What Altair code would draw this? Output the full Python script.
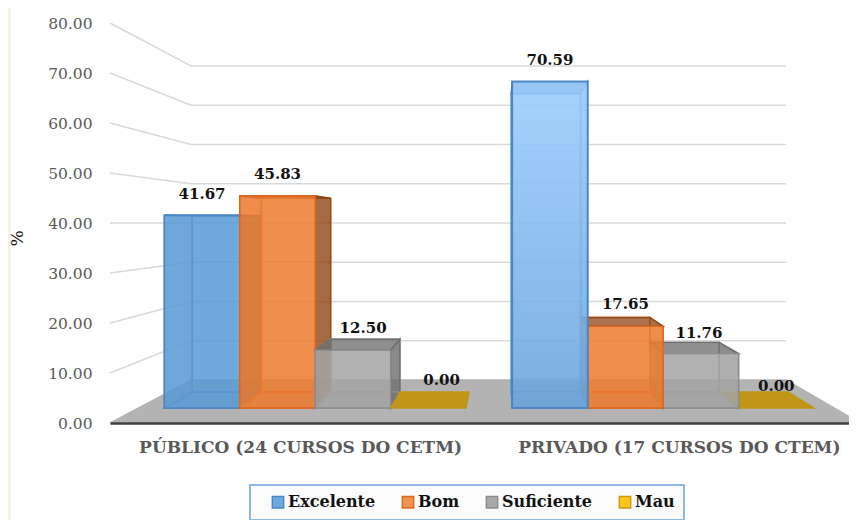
import altair as alt
import pandas as pd

groups = ["PÚBLICO (24 CURSOS DO CETM)", "PRIVADO (17 CURSOS DO CTEM)"]
series = ["Excelente", "Bom", "Suficiente", "Mau"]
publico = [41.67, 45.83, 12.50, 0.00]
privado = [70.59, 17.65, 11.76, 0.00]
ticks = [0, 10, 20, 30, 40, 50, 60, 70, 80]
fill_colors = ["#5B9BD5", "#ED7D31", "#A5A5A5", "#FFC000"]
legend_fill = ["#6FA8DC", "#F0914F", "#A9A9A9", "#FFC51A"]
edge_colors = ["#4A86C5", "#E0651D", "#8C8C8C", "#C99A12"]
dark_colors = ["#3E6F9E", "#8F4A1C", "#6E6E6E", "#8A6D10"]
label_dx = [[0, 0, 0.027, 0.035], [0, 0, -0.005, 0]]
label_dy = [[4.3, 4.5, 4.5, 5.6], [4.4, 4.4, 4.2, 4.4]]

BAR_START, BAR_STEP = 0.0747, 0.2169
T_FRONT, T_BACK = 0.35, 0.72
XMAX = 1.9707


def px(u, t):
    left, right = 0.216 * t, 2 - 0.1973 * t
    return left + u / 2 * (right - left)


def py(v, t):
    return 8.6 * t + v * (1 - 0.215 * t)


def vface(name, u0, t0, u1, t1, v, fill, stroke, op):
    return [
        dict(face=name, x=px(u0, t0), y=py(v, t0), y2=py(0, t0), fill=fill, stroke=stroke, op=op),
        dict(face=name, x=px(u1, t1), y=py(v, t1), y2=py(0, t1), fill=fill, stroke=stroke, op=op),
    ]


def hface(name, u0, u1, v, fill, stroke, op):
    return [
        dict(face=name, y=py(v, T_BACK), x=px(u0, T_BACK), x2=px(u1, T_BACK), fill=fill, stroke=stroke, op=op),
        dict(face=name, y=py(v, T_FRONT), x=px(u0, T_FRONT), x2=px(u1, T_FRONT), fill=fill, stroke=stroke, op=op),
    ]


def common():
    return dict(
        fill=alt.Fill("fill:N", scale=None, legend=None),
        stroke=alt.Stroke("stroke:N", scale=None, legend=None),
        fillOpacity=alt.FillOpacity("op:Q", scale=None, legend=None),
        detail="face:N",
    )


X = alt.X("x:Q", scale=alt.Scale(domain=[0, XMAX]), title=None, axis=alt.Axis(
    values=[0.507, 1.517], zindex=1,
    labelExpr="datum.value < 1 ? '%s' : '%s'" % (groups[0], groups[1]),
    ticks=False, grid=False, domainColor="#404040", domainWidth=2.5,
    labelFont="DejaVu Serif", labelFontWeight="bold", labelFontSize=17, labelColor="#595959",
    labelPadding=16, labelLimit=500, labelOverlap=False, labelBound=False, labelFlush=False))
Y = alt.Y("y:Q", scale=alt.Scale(domain=[0, 80]), title="%", axis=alt.Axis(
    values=ticks, format=".2f", ticks=False, grid=False, domain=False, zindex=1,
    labelFont="DejaVu Serif", labelFontSize=15.5, labelColor="#595959", labelPadding=18,
    titleFont="DejaVu Serif", titleFontSize=17, titleFontWeight="normal", titleColor="#111111",
    titleX=-84, titleY=215))


def varea(rows):
    return alt.Chart(pd.DataFrame(rows)).mark_area(orient="vertical", strokeWidth=1.4, clip=False).encode(
        x=X, y=Y, y2="y2:Q", **common())


def harea(rows, sw=1.4, clip=False):
    return alt.Chart(pd.DataFrame(rows)).mark_area(orient="horizontal", strokeWidth=sw, clip=clip).encode(
        y=Y, x=X, x2="x2:Q", **common())


layers = []

# white panel
layers.append(alt.Chart(pd.DataFrame({"a": [0]})).mark_rect(color="white").encode(
    x=alt.value(-99), x2=alt.value(800), y=alt.value(-40), y2=alt.value(560)))

# gridlines on wall and back
grid_rows = []
for v in ticks[1:]:
    for i, (u, t) in enumerate([(0, 0), (0, 1), (2, 1)]):
        grid_rows.append(dict(g=v, o=i, x=px(u, t), y=py(v, t)))
layers.append(alt.Chart(pd.DataFrame(grid_rows)).mark_line(color="#D9D9D9", strokeWidth=1.5).encode(
    x=X, y=Y, detail="g:N", order="o:Q"))

# floor
floor = [
    dict(face="floor", y=py(0, 1), x=px(0, 1), x2=px(2, 1), fill="#B3B3B3", stroke="#B3B3B3", op=1),
    dict(face="floor", y=py(0, 0), x=px(0, 0), x2=px(2, 0), fill="#B3B3B3", stroke="#B3B3B3", op=1),
]
layers.append(harea(floor, clip=True))

# bars
for g, values in enumerate([publico, privado]):
    order = range(4) if g == 0 else range(3, -1, -1)
    for j in order:
        v = values[j]
        u0 = g + BAR_START + j * BAR_STEP
        u1 = u0 + BAR_STEP
        base, edge, dark = fill_colors[j], edge_colors[j], dark_colors[j]
        key = f"{g}-{j}"
        if v == 0:
            layers.append(harea(hface(key + "f", u0, u1, 0, "#BF9618", "#BF9618", 1)))
            continue
        left_op, right_op = (0.15, 0.8) if g == 0 else (0.55, 0.15)
        rows = vface(key + "b", u0, T_BACK, u1, T_BACK, v, base, edge, 0.12)
        rows += vface(key + "l", u0, T_FRONT, u0, T_BACK, v, dark, edge, left_op)
        rows += vface(key + "r", u1, T_FRONT, u1, T_BACK, v, dark, dark if g == 0 else edge, right_op)
        layers.append(varea(rows))
        layers.append(harea(hface(key + "g", u0, u1, 0, dark, edge, 0.2)
                            + hface(key + "t", u0, u1, v, dark, dark, 0.75)))
        front = vface(key + "x", u0, T_FRONT, u1, T_FRONT, v, base, edge, 0.85)
        if g == 1 and j == 0:
            grad = alt.Gradient(gradient="linear", x1=0, x2=0, y1=0, y2=1, stops=[
                alt.GradientStop(color="#9CCDFF", offset=0),
                alt.GradientStop(color="#6BA5DC", offset=1)])
            layers.append(alt.Chart(pd.DataFrame(front)).mark_area(
                orient="vertical", fill=grad, fillOpacity=0.88, stroke="#4A86C5", strokeWidth=1.8
            ).encode(x=X, y=Y, y2="y2:Q"))
        else:
            layers.append(varea(front))

# value labels
label_rows = []
for g, values in enumerate([publico, privado]):
    for j, v in enumerate(values):
        um = g + BAR_START + (j + 0.5) * BAR_STEP
        label_rows.append(dict(x=px(um, T_FRONT) + label_dx[g][j],
                               y=py(v, T_FRONT) + label_dy[g][j], value=v))
layers.append(alt.Chart(pd.DataFrame(label_rows)).mark_text(
    font="DejaVu Serif", fontWeight="bold", fontSize=15, color="#111111", baseline="middle", align="center"
).encode(x=X, y=Y, text=alt.Text("value:Q", format=".2f")))

# legend
legend_spec = alt.Legend(
    title=None, orient="none", legendX=140, legendY=462, direction="horizontal", columns=4,
    symbolType="square", symbolSize=130, symbolOpacity=1, symbolStrokeWidth=1.4, symbolOffset=11,
    labelFont="DejaVu Serif", labelFontWeight="bold", labelFontSize=16, labelColor="#111111",
    labelOffset=2, columnPadding=13, padding=9, fillColor="#FBFBFB", strokeColor="#8DB9E4", labelLimit=200)
leg_df = pd.DataFrame({"serie": series, "x": [0] * 4, "y": [0] * 4})
layers.append(alt.Chart(leg_df).mark_square(opacity=0).encode(
    x=X, y=Y,
    fill=alt.Fill("serie:N", scale=alt.Scale(domain=series, range=legend_fill), sort=series, legend=legend_spec),
    stroke=alt.Stroke("serie:N", scale=alt.Scale(domain=series, range=edge_colors), sort=series, legend=legend_spec),
))

chart = alt.layer(*layers).resolve_scale(fill="independent", stroke="independent", fillOpacity="independent").properties(
    width=739, height=400, background="#F6F2E8",
    padding={"left": 102, "top": 15, "right": 0, "bottom": 97},
    autosize=alt.AutoSizeParams(type="none"),
).configure_view(stroke=None).configure_legend(strokeWidth=2)

chart.save("out.html", embed_options={"renderer": "svg", "actions": False})
